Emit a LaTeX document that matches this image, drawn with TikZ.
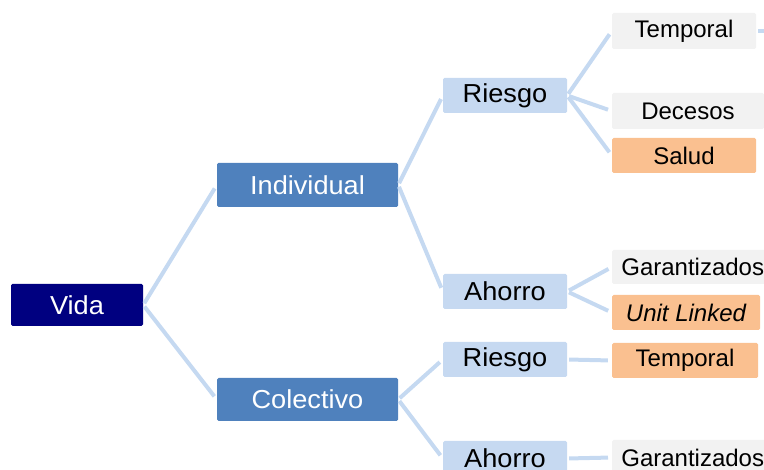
\documentclass[tikz,border=0pt]{standalone}
\usepackage{fontspec}
\setmainfont{Liberation Sans}
\newfontfamily\widesans[FakeStretch=1.045]{Liberation Sans}
\definecolor{navy}{HTML}{000080}
\definecolor{midblue}{HTML}{4F81BD}
\definecolor{lightblue}{HTML}{C6D9F1}
\definecolor{linkblue}{HTML}{C5D9F1}
\definecolor{lgray}{HTML}{F2F2F2}
\definecolor{orangebox}{HTML}{FAC090}
\begin{document}
\begin{tikzpicture}[x=1pt,y=-1pt,
  box/.style={rectangle, rounded corners=1.5pt, inner sep=0pt, minimum height=35pt, font=\widesans\fontsize{26}{28}\selectfont},
  lvlzero/.style={box, fill=navy, text=white, minimum width=132pt, minimum height=42pt},
  lvlone/.style={box, fill=midblue, text=white, minimum width=181pt, minimum height=44pt},
  lvltwo/.style={box, fill=lightblue, text=black, minimum width=124pt},
  leafgray/.style={box, fill=lgray, text=black, font=\fontsize{24}{26}\selectfont},
  leaforange/.style={box, fill=orangebox, text=black, font=\fontsize{24}{26}\selectfont},
  link/.style={draw=linkblue, line width=4pt, shorten <=2pt, shorten >=4pt}
]
\useasboundingbox (0,0) rectangle (764,470);
\clip (0,0) rectangle (764,470);

\node[lvlzero] (vida) at (77,305) {Vida};
\node[lvlone] (ind) at (307.5,185) {Individual};
\node[lvlone, minimum height=43pt] (col) at (307.5,399.5) {Colectivo};

\node[lvltwo] (r1) at (505,95.5) {Riesgo};
\node[lvltwo] (a1) at (505,291.5) {Ahorro};
\node[lvltwo] (r2) at (505,359.5) {Riesgo};
\node[lvltwo] (a2) at (505,458.5) {Ahorro};

\node[leafgray, minimum width=144pt, minimum height=36pt] (t1) at (684,31) {Temporal};
\node[leafgray, minimum width=152pt, minimum height=36pt] (dec) at (688,111) {Decesos};
\node[leaforange, minimum width=144pt] (sal) at (684,155.5) {Salud};
\node[leafgray, minimum width=156pt, minimum height=34pt, anchor=west] (g1) at (612,267) {\hspace*{5pt}Garantizados};
\node[leaforange, minimum width=148pt] (ul) at (686,312.5) {\itshape Unit Linked};
\node[leaforange, minimum width=146pt] (t2) at (685,360.5) {Temporal};
\node[leafgray, minimum width=156pt, anchor=west] (g2) at (612,457.5) {\hspace*{5pt}Garantizados};
\coordinate (stub) at (790,31);

\draw[link] (vida.east) -- (ind.west);
\draw[link] (vida.east) -- (col.west);
\draw[link] (ind.east) -- (r1.west);
\draw[link] (ind.east) -- (a1.west);
\draw[link] (col.east) -- (r2.west);
\draw[link] (col.east) -- (a2.west);
\draw[link] (r1.east) -- (t1.west);
\draw[link] (r1.east) -- (dec.west);
\draw[link] (r1.east) -- (sal.west);
\draw[link] (a1.east) -- (g1.west);
\draw[link] (a1.east) -- (ul.west);
\draw[link] (r2.east) -- (t2.west);
\draw[link] (a2.east) -- (g2.west);
\draw[link] (t1.east) -- (stub);
\end{tikzpicture}
\end{document}
